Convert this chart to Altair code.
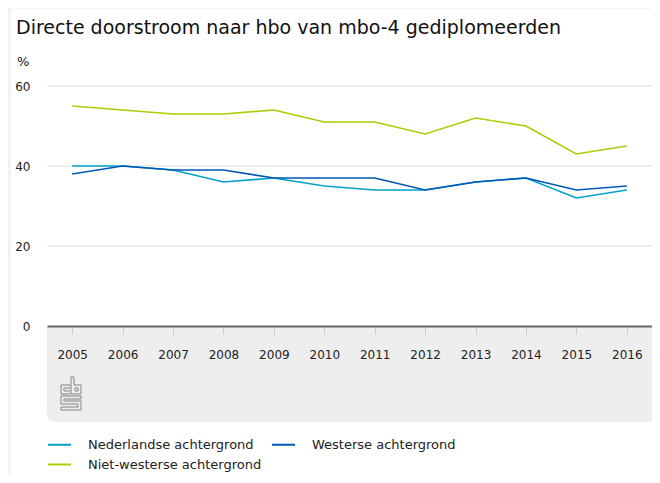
import altair as alt
import pandas as pd

years = [2005, 2006, 2007, 2008, 2009, 2010, 2011, 2012, 2013, 2014, 2015, 2016]
nederlandse = [40, 40, 39, 36, 37, 35, 34, 34, 36, 37, 32, 34]
westerse = [38, 40, 39, 39, 37, 37, 37, 34, 36, 37, 34, 35]
niet_westerse = [55, 54, 53, 53, 54, 51, 51, 48, 52, 50, 43, 45]

series_names = ["Nederlandse achtergrond", "Westerse achtergrond", "Niet-westerse achtergrond"]
series_colors = ["#00a1cd", "#0058b8", "#afcb05"]
y_ticks = [0, 20, 40, 60]
title_text = "Directe doorstroom naar hbo van mbo-4 gediplomeerden"
unit_text = "%"

rows = []
for name, vals in zip(series_names, [nederlandse, westerse, niet_westerse]):
    for y, v in zip(years, vals):
        rows.append({"jaar": str(y), "waarde": v, "reeks": name})
df = pd.DataFrame(rows)
grid_df = pd.DataFrame({"v": y_ticks[1:]})

# decorative CBS logo outline (pixel segments inside the grey footer)
logo_pts = [
    (14, 299, 23, 299), (14, 299, 14, 308), (14, 308, 23, 308),
    (17, 302, 23, 302), (17, 302, 17, 305), (17, 305, 23, 305),
    (24, 291, 24, 308), (24, 308, 34, 308), (34, 308, 34, 299),
    (34, 299, 27, 299), (27, 299, 27, 291), (27, 291, 24, 291),
    (28, 302, 31, 302), (31, 302, 31, 305), (31, 305, 28, 305), (28, 305, 28, 302),
    (34, 310, 14, 310), (14, 310, 14, 318), (14, 318, 31, 318), (31, 318, 31, 321),
    (31, 321, 14, 321), (14, 321, 14, 324), (14, 324, 34, 324), (34, 324, 34, 315),
    (34, 315, 17, 315), (17, 315, 17, 313), (17, 313, 34, 313), (34, 313, 34, 310),
]
logo_df = pd.DataFrame(logo_pts, columns=["x1", "y1", "x2", "y2"])

W = 605
H = 240
FONT = "DejaVu Sans"
one = alt.Data(values=[{}])

card = alt.Chart(one).mark_rect(color="white").encode(
    x=alt.value(-36), x2=alt.value(W + 20), y=alt.value(-77), y2=alt.value(H + 200)
)
band = alt.Chart(one).mark_rect(
    color="#eeeeee", cornerRadiusBottomLeft=8
).encode(
    x=alt.value(0), x2=alt.value(W + 20), y=alt.value(H), y2=alt.value(H + 96)
)
logo = alt.Chart(logo_df).mark_rule(color="#9a9a9a", strokeWidth=1.3).encode(
    x=alt.X("x1:Q", scale=None), x2="x2:Q",
    y=alt.Y("y1:Q", scale=None), y2="y2:Q",
)
grid = alt.Chart(grid_df).mark_rule(color="#dddddd", strokeWidth=1).encode(
    y=alt.Y("v:Q", scale=alt.Scale(domain=[0, 60])),
    x=alt.value(0), x2=alt.value(W),
)

lines = alt.Chart(df).mark_line(strokeWidth=1.6).encode(
    x=alt.X("jaar:O", scale=alt.Scale(type="point", padding=0.5),
            axis=alt.Axis(title=None, labelAngle=0, zindex=2)),
    y=alt.Y("waarde:Q", scale=alt.Scale(domain=[0, 60]),
            axis=alt.Axis(title=None, values=y_ticks, zindex=2)),
    color=alt.Color("reeks:N", sort=series_names,
                    scale=alt.Scale(domain=series_names, range=series_colors),
                    legend=alt.Legend(title=None, orient="none", legendX=0, legendY=346,
                                      direction="horizontal",
                                      columns=2, symbolType="stroke", symbolSize=529,
                                      symbolStrokeWidth=2, labelFontSize=13, labelFont=FONT,
                                      labelColor="#222", labelOffset=16, columnPadding=6,
                                      rowPadding=0, labelLimit=400)),
)

title = alt.Chart(one).mark_text(
    text=title_text, align="left", baseline="middle", fontSize=19, font=FONT, color="#111"
).encode(x=alt.value(-31), y=alt.value(-58))
unit = alt.Chart(one).mark_text(
    text=unit_text, align="left", baseline="middle", fontSize=13, font=FONT, color="#111"
).encode(x=alt.value(-30), y=alt.value(-24))

chart = alt.layer(card, band, logo, grid, lines, title, unit).properties(
    width=W, height=H,
    autosize=alt.AutoSizeParams(type="none"),
    padding={"left": 39, "top": 78, "right": 0, "bottom": 149},
    background="#f3f3f3",
).configure_view(stroke=None).configure_axisX(
    domainColor="#666", domainWidth=2, tickColor="#cccccc", tickSize=8,
    labelPadding=15, labelFontSize=12, labelFont=FONT, labelColor="#222", grid=False,
).configure_axisY(
    domain=False, ticks=False, grid=False, labelPadding=17,
    labelFontSize=12, labelFont=FONT, labelColor="#222",
)

chart.save("out.html", embed_options={"renderer": "svg", "actions": False})
